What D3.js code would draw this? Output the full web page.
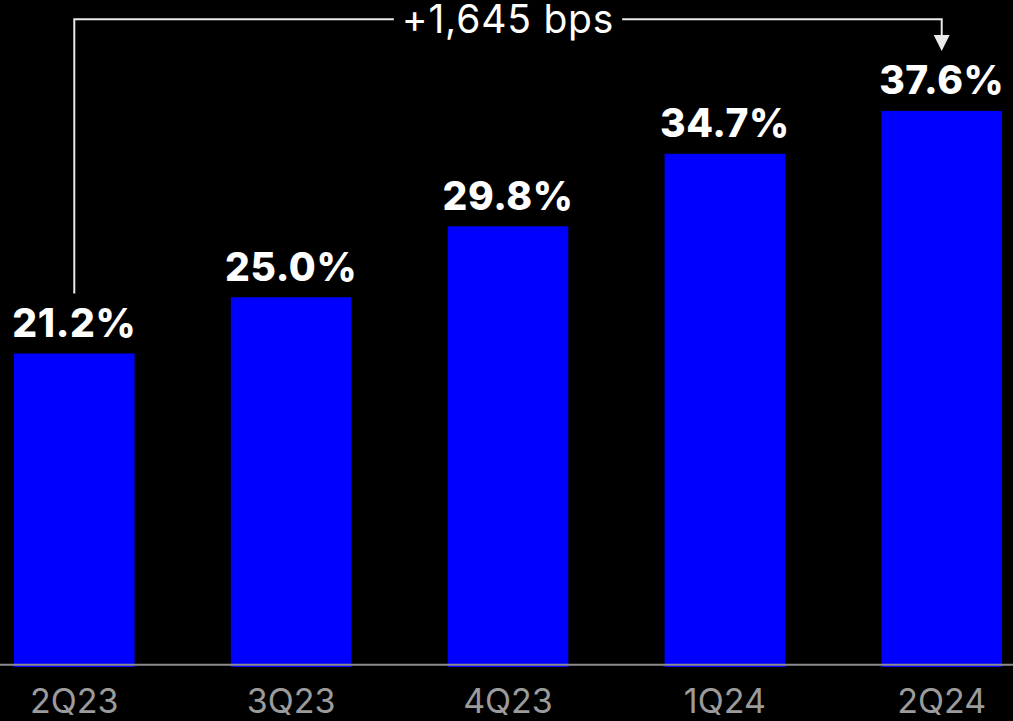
<!DOCTYPE html>
<html>
<head>
<meta charset="utf-8">
<script src="https://cdn.jsdelivr.net/npm/d3@7"></script>
<style>
  html, body { margin: 0; padding: 0; background: #000; }
  svg { display: block; }
</style>
</head>
<body>
<svg id="chart" width="1013" height="721"></svg>
<script>
// Quarterly margin, percent
const quarters = ["2Q23", "3Q23", "4Q23", "1Q24", "2Q24"];
const marginPct = [21.2, 25.0, 29.8, 34.7, 37.6];
const valueLabels = ["21.2%", "25.0%", "29.8%", "34.7%", "37.6%"];
const changeLabel = "+1,645 bps";

const W = 1013, H = 721;
const svg = d3.select("#chart");

svg.append("rect").attr("width", W).attr("height", H).attr("fill", "#000");

const x = d3.scaleBand()
  .domain(quarters)
  .range([14, 1002])
  .paddingInner(0.444)
  .paddingOuter(0);

const y = d3.scaleLinear()
  .domain([0, 40])
  .range([667, 667 - 14.79 * 40]);

const data = quarters.map((q, i) => ({ q, v: marginPct[i], label: valueLabels[i] }));

// Bars
svg.append("g").selectAll("rect")
  .data(data)
  .join("rect")
  .attr("x", d => x(d.q))
  .attr("y", d => y(d.v))
  .attr("width", x.bandwidth())
  .attr("height", d => y(0) - y(d.v))
  .attr("fill", "#0000ff");

// Baseline axis with category labels
const xAxis = svg.append("g")
  .attr("transform", "translate(0,665)")
  .call(d3.axisBottom(x).tickSize(0).tickPadding(48));
xAxis.select(".domain").remove();
xAxis.selectAll("text")
  .attr("fill", "#9b9b9b")
  .attr("font-family", "Inter, 'Open Sans', sans-serif")
  .attr("font-size", 34)
  .attr("font-weight", 400)
  .attr("dy", 0);
svg.append("line")
  .attr("x1", 0).attr("x2", W)
  .attr("y1", 664.7).attr("y2", 664.7)
  .attr("stroke", "#8c8c8c")
  .attr("stroke-width", 2);

// Value labels
svg.append("g").selectAll("text")
  .data(data)
  .join("text")
  .attr("x", d => x(d.q) + x.bandwidth() / 2)
  .attr("y", d => y(d.v) - 16.5)
  .attr("text-anchor", "middle")
  .attr("fill", "#fff")
  .attr("font-family", "Inter, 'Open Sans', sans-serif")
  .attr("font-size", 39)
  .attr("font-weight", 800)
  .attr("letter-spacing", 0.6)
  .text(d => d.label);

// Change bracket from first to last quarter
const x0 = x(quarters[0]) + x.bandwidth() / 2;
const x1 = x(quarters[quarters.length - 1]) + x.bandwidth() / 2;
const yStart = y(marginPct[0]) - 60;
const yEnd = y(marginPct[marginPct.length - 1]) - 60;
const yTop = 19.3;
const headH = 16, headW = 16;

svg.append("path")
  .attr("d", `M${x0},${yStart} V${yTop} H${x1} V${yEnd - headH + 1}`)
  .attr("fill", "none")
  .attr("stroke", "#eaeaea")
  .attr("stroke-width", 2);
svg.append("path")
  .attr("d", `M${x1 - headW / 2},${yEnd - headH} L${x1 + headW / 2},${yEnd - headH} L${x1},${yEnd} Z`)
  .attr("fill", "#eaeaea");

const mid = (x0 + x1) / 2;
const gap = svg.append("rect").attr("fill", "#000");
const lbl = svg.append("text")
  .attr("x", mid)
  .attr("y", 33)
  .attr("text-anchor", "middle")
  .attr("fill", "#fff")
  .attr("font-family", "Inter, 'Open Sans', sans-serif")
  .attr("font-size", 39)
  .attr("font-weight", 400)
  .attr("letter-spacing", 0.8)
  .text(changeLabel);
const bb = lbl.node().getBBox();
gap.attr("x", bb.x - 8).attr("y", yTop - 4)
  .attr("width", bb.width + 16).attr("height", 8);
</script>
</body>
</html>
